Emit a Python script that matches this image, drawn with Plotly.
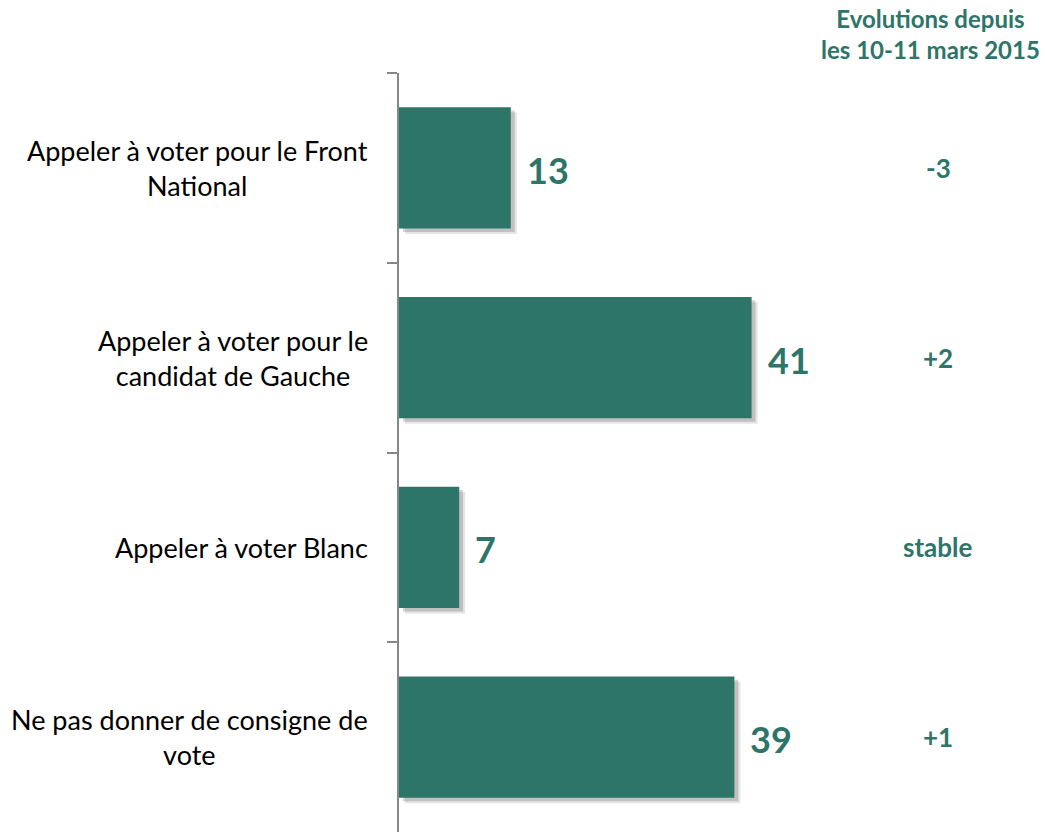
import plotly.graph_objects as go

categories = [
    "Appeler à voter pour le Front<br>National",
    "Appeler à voter pour le<br>candidat de Gauche",
    "Appeler à voter Blanc",
    "Ne pas donner de consigne de<br>vote",
]
values = [13, 41, 7, 39]
evolutions = ["-3", "+2", "stable", "+1"]
header = "Evolutions depuis<br>les 10-11 mars 2015"

TEAL = "#2E7569"
FONT = "Lato"
ids = [str(i) for i in range(len(categories))]

fig = go.Figure()
# soft drop shadow (two layers)
for sh, op in [(0.7, 0.10), (0.45, 0.16)]:
    fig.add_trace(go.Bar(
        y=ids, x=values, base=[sh] * len(values), orientation="h",
        marker=dict(color=f"rgba(0,0,0,{op})", line=dict(width=0)),
        width=0.64, offset=-0.32 + sh / 25, hoverinfo="skip", showlegend=False,
    ))
fig.add_trace(go.Bar(
    y=ids, x=values, orientation="h",
    marker=dict(color=TEAL, line=dict(width=0)),
    width=0.64, offset=-0.32, showlegend=False,
))

for i, (c, v, e) in enumerate(zip(categories, values, evolutions)):
    fig.add_annotation(x=0, xref="paper", y=ids[i], yref="y", text=c,
                       xanchor="right", yanchor="middle", xshift=-29, align="center",
                       showarrow=False, font=dict(family=FONT, size=27, color="#000000"))
    fig.add_annotation(x=v, xref="x", y=ids[i], yref="y", text=f"<b>{v}</b>",
                       xanchor="left", yanchor="middle", xshift=14, yshift=-2,
                       showarrow=False, font=dict(family=FONT, size=36, color=TEAL))
    fig.add_annotation(x=1.2535, xref="paper", y=ids[i], yref="y", text=f"<b>{e}</b>",
                       xanchor="center", yanchor="middle",
                       showarrow=False, font=dict(family=FONT, size=26, color=TEAL))

fig.add_annotation(x=1.237, xref="paper", y=1.051, yref="paper", text=f"<b>{header}</b>",
                   xanchor="center", yanchor="middle", align="center",
                   showarrow=False, font=dict(family=FONT, size=24, color=TEAL))

fig.update_layout(
    width=1045, height=832,
    margin=dict(l=399, r=216, t=73, b=0),
    paper_bgcolor="white", plot_bgcolor="white",
    bargap=0.36, barmode="overlay",
    xaxis=dict(range=[0, 50], visible=False),
    yaxis=dict(type="category", categoryorder="array", categoryarray=ids,
               autorange="reversed", range=[3.5, -0.5],
               showticklabels=False, showgrid=False, zeroline=False,
               showline=True, linecolor="#868686", linewidth=2,
               ticks="outside", ticklen=10, tickcolor="#868686", tickwidth=2,
               tickson="boundaries"),
)

fig.write_html("out.html", config={"displayModeBar": False},
               post_script="document.body.style.margin='0';document.body.style.padding='0';document.body.style.overflow='hidden';")
